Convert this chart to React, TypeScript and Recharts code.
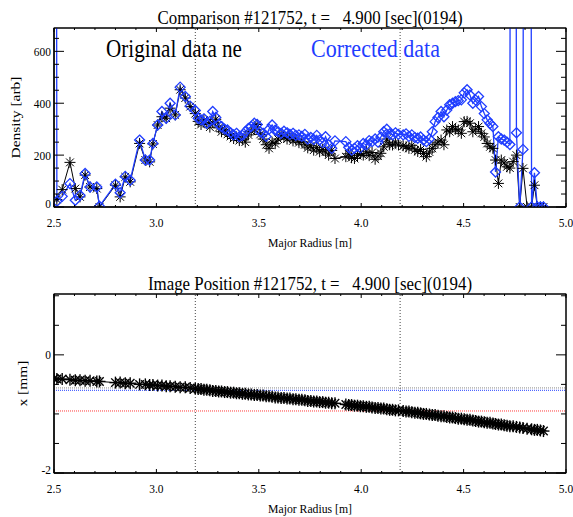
import { LineChart, Line, XAxis, YAxis, ReferenceLine, ReferenceArea, Legend } from 'recharts'

const FONT = "'Liberation Serif', 'Times New Roman', serif"
const BLUE = '#1f3dff'

const title1 = 'Comparison #121752, t =   4.900 [sec](0194)'
const title2 = 'Image Position #121752, t =   4.900 [sec](0194)'
const seriesNames = ['Original data ne', 'Corrected data']

// major radius of each channel [m]
const radius = [
  2.500, 2.514, 2.540, 2.578, 2.604, 2.627, 2.652, 2.676, 2.709, 2.722, 2.800, 2.823, 2.848,
  2.872, 2.918, 2.946, 2.967, 2.983, 3.006, 3.027, 3.048, 3.067, 3.092, 3.116, 3.141, 3.165,
  3.190, 3.204, 3.218, 3.232, 3.246, 3.261, 3.275, 3.290, 3.304, 3.318, 3.333, 3.347,
  3.362, 3.377, 3.391, 3.405, 3.420, 3.434, 3.449, 3.463, 3.478, 3.492, 3.507, 3.521,
  3.536, 3.550, 3.565, 3.580, 3.594, 3.609, 3.623, 3.638, 3.652, 3.667, 3.681, 3.696,
  3.710, 3.725, 3.739, 3.754, 3.768, 3.783, 3.797, 3.812, 3.826, 3.841, 3.856, 3.872,
  3.925, 3.939, 3.953, 3.967, 3.982, 3.996, 4.010, 4.025, 4.039, 4.053, 4.068, 4.082,
  4.096, 4.110, 4.125, 4.139, 4.153, 4.167, 4.182,
  4.205, 4.219, 4.233, 4.247, 4.262, 4.276, 4.290, 4.304, 4.318, 4.333, 4.347, 4.361,
  4.375, 4.390, 4.404, 4.418, 4.432, 4.446, 4.460, 4.474, 4.489, 4.503, 4.517, 4.531,
  4.545, 4.559, 4.573, 4.587, 4.601, 4.615, 4.629, 4.643, 4.656, 4.670, 4.684, 4.698, 4.712,
  4.726, 4.742, 4.758, 4.774, 4.790, 4.810, 4.832, 4.846, 4.860, 4.875, 4.890,
]

// density [arb], original
const neOriginal = [
  null, 29, 67, 172, 71, 39, 123, 77, 71, 0, 84, 39, 116,
  97, 245, 181, 174, 243, 316, 348, 342, 381, 355, 452, 420, 387,
  360, 330, 318, 335, 322, 308, 325, 338, 305, 290, 296, 280,
  272, 264, 270, 256, 262, 250, 278, 292, 300, 318, 280, 262,
  240, 226, 250, 244, 262, 278, 270, 262, 268, 255, 260, 248,
  252, 240, 228, 236, 219, 230, 213, 222, 212, 200, 218, 187,
  194, 205, 190, 187, 198, 206, 200, 215, 198, 210, 184, 196,
  207, 232, 262, 240, 239, 250, 239,
  236, 232, 226, 238, 220, 214, 222, 206, 194, 212, 226, 240,
  250, 258, 240, 297, 290, 310, 300, 297, 284, 329, 330, 323,
  290, 300, 310, 284, 270, 245, 232, 226, 181, 91, 181, 170, 155,
  150, 175, 200, 0, 149, 0, 0, 84, 0, 0, 0,
]

// density [arb], corrected
const neCorrected = [
  9000, 22, 41, 90, 26, 45, 129, 77, 77, 3, 88, 55, 118,
  103, 258, 181, 181, 245, 316, 368, 342, 400, 355, 462, 426, 389,
  372, 342, 336, 340, 323, 330, 368, 345, 318, 310, 300, 297,
  286, 278, 284, 271, 276, 290, 303, 310, 323, 318, 290, 284,
  272, 300, 316, 296, 290, 284, 292, 286, 280, 284, 276, 278,
  272, 280, 262, 268, 260, 276, 258, 248, 271, 240, 226, 255,
  252, 230, 219, 226, 236, 228, 245, 240, 256, 252, 262, 250,
  270, 290, 300, 282, 278, 286, 280,
  278, 282, 272, 278, 268, 265, 270, 258, 252, 262, 290, 329,
  345, 368, 348, 374, 394, 400, 406, 410, 413, 440, 452, 432,
  400, 412, 426, 387, 360, 336, 322, 310, 135, 271, 262, 258, 250,
  241, 9000, 286, 0, 222, 9000, 0, 132, 0, 0, 0,
]

// image position x [mm]
const imagePos = [
  -0.40, -0.41, -0.41, -0.42, -0.43, -0.43, -0.44, -0.44, -0.45, -0.45, -0.47, -0.47, -0.48,
  -0.48, -0.50, -0.50, -0.51, -0.51, -0.52, -0.52, -0.53, -0.53, -0.54, -0.55, -0.55, -0.56,
  -0.57, -0.58, -0.58, -0.59, -0.59, -0.60, -0.61, -0.61, -0.62, -0.62, -0.63, -0.63,
  -0.64, -0.64, -0.65, -0.65, -0.66, -0.66, -0.67, -0.67, -0.68, -0.68, -0.69, -0.69,
  -0.70, -0.70, -0.71, -0.72, -0.72, -0.73, -0.73, -0.74, -0.74, -0.75, -0.75, -0.76,
  -0.76, -0.77, -0.78, -0.78, -0.79, -0.79, -0.80, -0.80, -0.81, -0.81, -0.82, -0.82,
  -0.84, -0.85, -0.85, -0.86, -0.86, -0.87, -0.87, -0.88, -0.88, -0.89, -0.90, -0.90,
  -0.91, -0.91, -0.92, -0.93, -0.93, -0.94, -0.94,
  -0.95, -0.96, -0.96, -0.97, -0.98, -0.98, -0.99, -1.00, -1.00, -1.01, -1.02, -1.02,
  -1.03, -1.04, -1.04, -1.05, -1.06, -1.06, -1.07, -1.08, -1.08, -1.09, -1.10, -1.10,
  -1.11, -1.12, -1.13, -1.13, -1.14, -1.15, -1.15, -1.16, -1.17, -1.18, -1.18, -1.19, -1.20,
  -1.21, -1.21, -1.22, -1.23, -1.24, -1.25, -1.26, -1.27, -1.27, -1.28, -1.29,
]

const radiusTicks = [
  2.5, 2.6, 2.7, 2.8, 2.9, 3.0, 3.1, 3.2, 3.3, 3.4, 3.5, 3.6, 3.7,
  3.8, 3.9, 4.0, 4.1, 4.2, 4.3, 4.4, 4.5, 4.6, 4.7, 4.8, 4.9, 5.0,
]
const radiusLabels = [2.5, 3.0, 3.5, 4.0, 4.5, 5.0]
const radiusDomain = [2.5, 5.0]
const densityTicks = [0, 50, 100, 150, 200, 250, 300, 350, 400, 450, 500, 550, 600, 650]
const densityLabels = [0, 200, 400, 600]
const densityDomain = [0, 690]
const posTicks = [-2, -1.5, -1, -0.5, 0, 0.5, 1]
const posLabels = [-2, 0]
const posDomain = [-2, 1.03]
const separatrix = [3.19, 4.19]
const posLevels = [-0.56, -0.6, -0.95]
const posLevelColors = ['#8a8a8a', BLUE, '#ff3b3b']

const densityRows = radius.map((r, i) => ({ r, ne: neOriginal[i], corr: neCorrected[i] }))
const posRows = radius.map((r, i) => ({ r, pos: imagePos[i] }))

// plot box size, so that every tick is mirrored on the opposite side of the frame
const PLOT_W = 512
const PLOT_H = 179

function makeXTick(labels: number[], majorLen: number, minorLen: number) {
  return (props: any) => {
    const { x, y, payload } = props
    const v = payload.value
    const major = labels.some((l) => Math.abs(l - v) < 1e-6)
    const len = major ? majorLen : minorLen
    return (
      <g>
        <path d={`M${x},${y}V${y - len}M${x},${y - PLOT_H}V${y - PLOT_H + len}`} stroke="#000" strokeWidth={1} fill="none" />
        {major && (
          <text transform={`translate(${x},${y + 20}) scale(0.88,1)`} textAnchor="middle" fontFamily={FONT}
            fontSize={13} fill="#000">
            {v.toFixed(1)}
          </text>
        )}
      </g>
    )
  }
}

function makeYTick(labels: number[], majorLen: number, minorLen: number, bottomValue: number) {
  return (props: any) => {
    const { x, y, payload } = props
    const v = payload.value
    const major = labels.some((l) => Math.abs(l - v) < 1e-6)
    const len = major ? majorLen : minorLen
    const dy = Math.abs(v - bottomValue) < 1e-6 ? 0.5 : 4.5
    return (
      <g>
        <path d={`M${x},${y}H${x + len}M${x + PLOT_W},${y}H${x + PLOT_W - len}`} stroke="#000" strokeWidth={1} fill="none" />
        {major && (
          <text transform={`translate(${x - 3},${y + dy}) scale(0.88,1)`} textAnchor="end" fontFamily={FONT}
            fontSize={13} fill="#000">
            {String(v)}
          </text>
        )}
      </g>
    )
  }
}

function TitleText({ viewBox, text, width }: any) {
  const vb = viewBox ?? { x: 54, y: 27, width: 512, height: 1 }
  return (
    <text x={vb.x + vb.width / 2} y={vb.y + vb.height - 4.5} textAnchor="middle" fontFamily={FONT} fontSize={18}
      textLength={width} lengthAdjust="spacingAndGlyphs" style={{ whiteSpace: 'pre' }} fill="#000">
      {text}
    </text>
  )
}

function XTitle({ viewBox }: any) {
  const vb = viewBox ?? { x: 54, y: 207, width: 512 }
  return (
    <text x={vb.x + vb.width / 2} y={vb.y + 39.5} textAnchor="middle" fontFamily={FONT} fontSize={13}
      textLength={84} lengthAdjust="spacingAndGlyphs" fill="#000">
      Major Radius [m]
    </text>
  )
}

function YTitle({ viewBox, text, x, width }: any) {
  const vb = viewBox ?? { y: 28, height: 179 }
  const cy = vb.y + vb.height / 2
  return (
    <text transform={`translate(${x},${cy}) rotate(-90) scale(1,0.88)`} textAnchor="middle" fontFamily={FONT}
      fontSize={15} textLength={width} lengthAdjust="spacingAndGlyphs" fill="#000">
      {text}
    </text>
  )
}

function Asterisk({ cx, cy, r = 5, w = 1 }: any) {
  if (cx == null || cy == null || Number.isNaN(cy)) return null
  const d = r * 0.7071
  return (
    <g stroke="#000" strokeWidth={w}>
      <line x1={cx - r} y1={cy} x2={cx + r} y2={cy} />
      <line x1={cx} y1={cy - r} x2={cx} y2={cy + r} />
      <line x1={cx - d} y1={cy - d} x2={cx + d} y2={cy + d} />
      <line x1={cx - d} y1={cy + d} x2={cx + d} y2={cy - d} />
    </g>
  )
}

function Diamond({ cx, cy, r = 5 }: any) {
  if (cx == null || cy == null || Number.isNaN(cy)) return null
  return (
    <path d={`M${cx},${cy - r}L${cx + r},${cy}L${cx},${cy + r}L${cx - r},${cy}Z`} fill="none" stroke={BLUE} strokeWidth={1.3} />
  )
}

const notePos = [
  { x: 106, len: 136 },
  { x: 311, len: 129 },
]

function SeriesNotes({ payload }: any) {
  return (
    <svg width={573} height={70} style={{ display: 'block' }}>
      {(payload ?? []).map((p: any) => {
        const i = seriesNames.indexOf(p.value)
        if (i < 0) return null
        return (
          <text key={p.value} x={notePos[i].x} y={57} fontFamily={FONT} fontSize={25} fill={p.color}
            textLength={notePos[i].len} lengthAdjust="spacingAndGlyphs">
            {p.value}
          </text>
        )
      })}
    </svg>
  )
}

const chartMargin = { top: 27, right: 7, bottom: 0, left: 0 }

// plot frame of a 573x260 panel (left 54, top 28, 512 x 179), drawn above the chart
function Frame() {
  return (
    <svg width={573} height={260} style={{ position: 'absolute', left: 0, top: 0, pointerEvents: 'none', zIndex: 5 }}>
      <rect x={54} y={28} width={PLOT_W} height={PLOT_H} fill="none" stroke="#000" strokeWidth={1} />
    </svg>
  )
}

function DensityChart() {
  return (
    <LineChart width={573} height={260} data={densityRows} margin={chartMargin}>
      <XAxis dataKey="r" type="number" domain={radiusDomain} allowDataOverflow ticks={radiusTicks} interval={0}
        height={53} tickSize={0} tickMargin={0} tickLine={false} stroke="#000"
        tick={makeXTick(radiusLabels, 4, 2)} label={{ content: (p: any) => <XTitle {...p} /> }} />
      <XAxis xAxisId="title" orientation="top" dataKey="r" type="number" domain={radiusDomain}
        height={1} tick={false} tickLine={false} axisLine={false}
        label={{ content: (p: any) => <TitleText {...p} text={title1} width={305} /> }} />
      <YAxis type="number" domain={densityDomain} allowDataOverflow ticks={densityTicks} interval={0} width={54}
        tickSize={0} tickMargin={0} tickLine={false} stroke="#000"
        tick={makeYTick(densityLabels, 10, 5, densityDomain[0])}
        label={{ content: (p: any) => <YTitle {...p} text="Density [arb]" x={20} width={82} /> }} />
      <ReferenceArea x1={radiusDomain[0]} x2={radiusDomain[1]} y1={densityDomain[0]} y2={densityDomain[1]}
        fill="none" fillOpacity={0} stroke="#000" strokeWidth={1} ifOverflow="visible" />
      {separatrix.map((x) => (
        <ReferenceLine key={x} x={x} stroke="#444" strokeDasharray="1 2" strokeWidth={1} />
      ))}
      <Line dataKey="ne" name={seriesNames[0]} stroke="#000" strokeWidth={1} isAnimationActive={false}
        dot={(p: any) => <Asterisk key={p.index} cx={p.cx} cy={p.cy} r={5.5} />} />
      <Line dataKey="corr" name={seriesNames[1]} stroke={BLUE} strokeWidth={1.3} isAnimationActive={false}
        dot={(p: any) => <Diamond key={p.index} cx={p.cx} cy={p.cy} r={5} />} />
      <Legend layout="horizontal" verticalAlign="middle" align="center"
        wrapperStyle={{ left: 0, top: 0, width: 573, height: 70 }}
        content={(p: any) => <SeriesNotes payload={p.payload} />} />
    </LineChart>
  )
}

function PositionChart() {
  return (
    <LineChart width={573} height={260} data={posRows} margin={chartMargin}>
      <XAxis dataKey="r" type="number" domain={radiusDomain} allowDataOverflow ticks={radiusTicks} interval={0}
        height={53} tickSize={0} tickMargin={0} tickLine={false} stroke="#000"
        tick={makeXTick(radiusLabels, 4, 2)} label={{ content: (p: any) => <XTitle {...p} /> }} />
      <XAxis xAxisId="title" orientation="top" dataKey="r" type="number" domain={radiusDomain}
        height={1} tick={false} tickLine={false} axisLine={false}
        label={{ content: (p: any) => <TitleText {...p} text={title2} width={324} /> }} />
      <YAxis type="number" domain={posDomain} allowDataOverflow ticks={posTicks} interval={0} width={54}
        tickSize={0} tickMargin={0} tickLine={false} stroke="#000"
        tick={makeYTick(posLabels, 10, 5, posDomain[0])}
        label={{ content: (p: any) => <YTitle {...p} text="x [mm]" x={27} width={46} /> }} />
      <ReferenceArea x1={radiusDomain[0]} x2={radiusDomain[1]} y1={posDomain[0]} y2={posDomain[1]}
        fill="none" fillOpacity={0} stroke="#000" strokeWidth={1} ifOverflow="visible" />
      {separatrix.map((x) => (
        <ReferenceLine key={x} x={x} stroke="#444" strokeDasharray="1 2" strokeWidth={1} />
      ))}
      <Line dataKey="pos" name="x" stroke="#000" strokeWidth={1} isAnimationActive={false}
        dot={(p: any) => <Asterisk key={p.index} cx={p.cx} cy={p.cy} r={6} w={1.4} />} />
      {posLevels.map((y, i) => (
        <ReferenceLine key={y} y={y} stroke={posLevelColors[i]} strokeDasharray="1 1" strokeWidth={1} />
      ))}
    </LineChart>
  )
}

export default function App() {
  return (
    <div style={{ position: 'absolute', left: 0, top: 0, width: 573, height: 517, background: '#fff' }}>
      <div style={{ position: 'absolute', left: 0, top: 0, width: 573, height: 260 }}>
        <DensityChart />
        <Frame />
      </div>
      <div style={{ position: 'absolute', left: 0, top: 266, width: 573, height: 260 }}>
        <PositionChart />
        <Frame />
      </div>
    </div>
  )
}
